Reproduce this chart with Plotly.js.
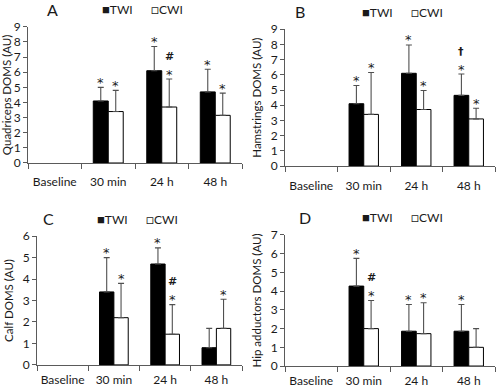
<!DOCTYPE html>
<html>
<head>
<meta charset="utf-8">
<script src="https://cdn.plot.ly/plotly-3.0.1.min.js"></script>
<style>html,body{margin:0;padding:0;background:#fff}#chart{width:500px;height:389px}</style>
</head>
<body>
<div id="chart"></div>
<script>
// ---------- data ----------
const categories = ['Baseline', '30 min', '24 h', '48 h'];
const seriesNames = ['TWI', 'CWI'];
const panelLetters = ['A', 'B', 'C', 'D'];
const yTitles = ['Quadriceps DOMS (AU)', 'Hamstrings DOMS (AU)', 'Calf DOMS (AU)', 'Hip adductors DOMS (AU)'];
const yMax = [9, 9, 6, 7];

const quadTWI = [null, 4.1, 6.1, 4.7];
const quadTWIsd = [null, 0.9, 1.6, 1.5];
const quadCWI = [null, 3.4, 3.7, 3.15];
const quadCWIsd = [null, 1.4, 1.85, 1.47];

const hamTWI = [null, 4.1, 6.1, 4.65];
const hamTWIsd = [null, 1.2, 1.86, 1.4];
const hamCWI = [null, 3.4, 3.72, 3.1];
const hamCWIsd = [null, 2.75, 1.25, 0.7];

const calfTWI = [null, 3.4, 4.7, 0.8];
const calfTWIsd = [null, 1.6, 0.75, 0.9];
const calfCWI = [null, 2.2, 1.43, 1.7];
const calfCWIsd = [null, 1.6, 1.38, 1.36];

const hipTWI = [null, 4.27, 1.86, 1.86];
const hipTWIsd = [null, 1.48, 1.43, 1.43];
const hipCWI = [null, 2.0, 1.73, 1.0];
const hipCWIsd = [null, 1.5, 1.65, 1.0];

// significance marks: first row sits on the error bar, second row above it
const quadTWImark = ['', '*', '*', '*'];
const quadTWItop = ['', '', '', ''];
const quadCWImark = ['', '*', '*', '*'];
const quadCWItop = ['', '', '#', ''];
const hamTWImark = ['', '*', '*', '*'];
const hamTWItop = ['', '', '', '†'];
const hamCWImark = ['', '*', '*', '*'];
const hamCWItop = ['', '', '', ''];
const calfTWImark = ['', '*', '*', ''];
const calfTWItop = ['', '', '', ''];
const calfCWImark = ['', '*', '*', '*'];
const calfCWItop = ['', '', '#', ''];
const hipTWImark = ['', '*', '*', '*'];
const hipTWItop = ['', '', '', ''];
const hipCWImark = ['', '*', '*', ''];
const hipCWItop = ['', '#', '', ''];

// ---------- layout helpers ----------
const W = 500, H = 389;
const FONT = 'Lato, "Open Sans", sans-serif';
const MARKFONT = '"DejaVu Sans", sans-serif';
const TXT = '#1a1a1a';
const AX = '#5a5a5a';
const bargap = 0.44;
const xDomains = [[0.056, 0.484], [0.57, 0.99], [0.074, 0.484], [0.57, 0.99]];
const yDomains = [[0.581, 0.931], [0.573, 0.925], [0.062, 0.393], [0.059, 0.396]];
const labelStandoff = [8, 8, 4, 4];
const letterOffset = [0.048, 0.03, 0.022, 0.04];
const keyOffset = [0.144, 0.15, 0.116, 0.15];

const panels = [
  {twi: quadTWI, twiSd: quadTWIsd, cwi: quadCWI, cwiSd: quadCWIsd, tm: quadTWImark, tt: quadTWItop, cm: quadCWImark, ct: quadCWItop},
  {twi: hamTWI, twiSd: hamTWIsd, cwi: hamCWI, cwiSd: hamCWIsd, tm: hamTWImark, tt: hamTWItop, cm: hamCWImark, ct: hamCWItop},
  {twi: calfTWI, twiSd: calfTWIsd, cwi: calfCWI, cwiSd: calfCWIsd, tm: calfTWImark, tt: calfTWItop, cm: calfCWImark, ct: calfCWItop},
  {twi: hipTWI, twiSd: hipTWIsd, cwi: hipCWI, cwiSd: hipCWIsd, tm: hipTWImark, tt: hipTWItop, cm: hipCWImark, ct: hipCWItop}
];

const traces = [];
const annotations = [];
const layout = {
  width: W, height: H,
  margin: {l: 0, r: 0, t: 0, b: 0},
  paper_bgcolor: '#fff', plot_bgcolor: '#fff',
  barmode: 'group', bargap: bargap, bargroupgap: 0,
  showlegend: false,
  font: {family: FONT, color: TXT, size: 12},
  annotations: annotations
};

panels.forEach((p, i) => {
  const n = i + 1;
  const xa = 'x' + (n === 1 ? '' : n), ya = 'y' + (n === 1 ? '' : n);
  const xk = 'xaxis' + (n === 1 ? '' : n), yk = 'yaxis' + (n === 1 ? '' : n);
  const errStyle = {color: '#505050', thickness: 1.1, width: 3};
  traces.push({
    type: 'bar', name: seriesNames[0], x: categories, y: p.twi, xaxis: xa, yaxis: ya,
    marker: {color: '#000', line: {color: '#000', width: 1}},
    error_y: Object.assign({type: 'data', symmetric: false, array: p.twiSd, arrayminus: p.twiSd.map(() => 0)}, errStyle),
    hoverinfo: 'skip'
  });
  traces.push({
    type: 'bar', name: seriesNames[1], x: categories, y: p.cwi, xaxis: xa, yaxis: ya,
    marker: {color: '#fff', line: {color: '#000', width: 1}},
    error_y: Object.assign({type: 'data', symmetric: false, array: p.cwiSd, arrayminus: p.cwiSd.map(() => 0)}, errStyle),
    hoverinfo: 'skip'
  });

  layout[xk] = {
    domain: xDomains[i], anchor: ya, type: 'category',
    showline: true, linecolor: AX, linewidth: 1,
    ticks: 'outside', tickson: 'boundaries', ticklen: 5, tickcolor: AX,
    ticklabelstandoff: labelStandoff[i], tickangle: 0,
    showgrid: false, zeroline: false, fixedrange: true,
    tickfont: {family: FONT, size: 12, color: TXT}
  };
  layout[yk] = {
    domain: yDomains[i], anchor: xa, range: [0, yMax[i]], dtick: 1,
    showline: true, linecolor: AX, linewidth: 1,
    ticks: 'outside', ticklen: 4, tickcolor: AX,
    showgrid: false, zeroline: false, fixedrange: true,
    tickfont: {family: FONT, size: 12, color: TXT},
    title: {text: yTitles[i], font: {family: FONT, size: 11.5, color: TXT}, standoff: 6}
  };

  // bar half-offset in px, derived from the axis length and bargap
  const axLen = (xDomains[i][1] - xDomains[i][0]) * W;
  const shift = axLen / categories.length * (1 - bargap) / 4;
  const addMarks = (vals, sds, marks, tops, dx) => {
    categories.forEach((c, k) => {
      if (vals[k] == null) return;
      const top = vals[k] + sds[k];
      if (marks[k]) annotations.push({xref: xa, yref: ya, x: c, y: top, text: marks[k], showarrow: false,
        xanchor: 'center', yanchor: 'middle', xshift: dx, yshift: 5, font: {family: MARKFONT, size: 13, color: TXT}});
      if (tops[k]) annotations.push({xref: xa, yref: ya, x: c, y: top, text: '<b>' + tops[k] + '</b>', showarrow: false,
        xanchor: 'center', yanchor: 'middle', xshift: dx, yshift: 23, font: {family: MARKFONT, size: 11, color: TXT}});
    });
  };
  addMarks(p.twi, p.twiSd, p.tm, p.tt, -shift);
  addMarks(p.cwi, p.cwiSd, p.cm, p.ct, shift);

  // panel letter
  annotations.push({xref: 'paper', yref: 'paper', x: xDomains[i][0] + letterOffset[i],
    y: yDomains[i][1] + 0.045, text: panelLetters[i], showarrow: false, xanchor: 'center', yanchor: 'middle',
    font: {family: FONT, size: 16, color: TXT}});
  // legend (key) row
  annotations.push({xref: 'paper', yref: 'paper', x: xDomains[i][0] + keyOffset[i],
    y: yDomains[i][1] + 0.045, xanchor: 'left', yanchor: 'middle', showarrow: false,
    text: '<span style="font-size:13px">■</span>' + seriesNames[0] + '&nbsp;&nbsp;&nbsp;&nbsp;&nbsp;&nbsp;<span style="font-size:13px">□</span>' + seriesNames[1],
    font: {family: FONT, size: 12, color: TXT}});
});

Plotly.newPlot('chart', traces, layout, {staticPlot: true, displayModeBar: false});
</script>
</body>
</html>
